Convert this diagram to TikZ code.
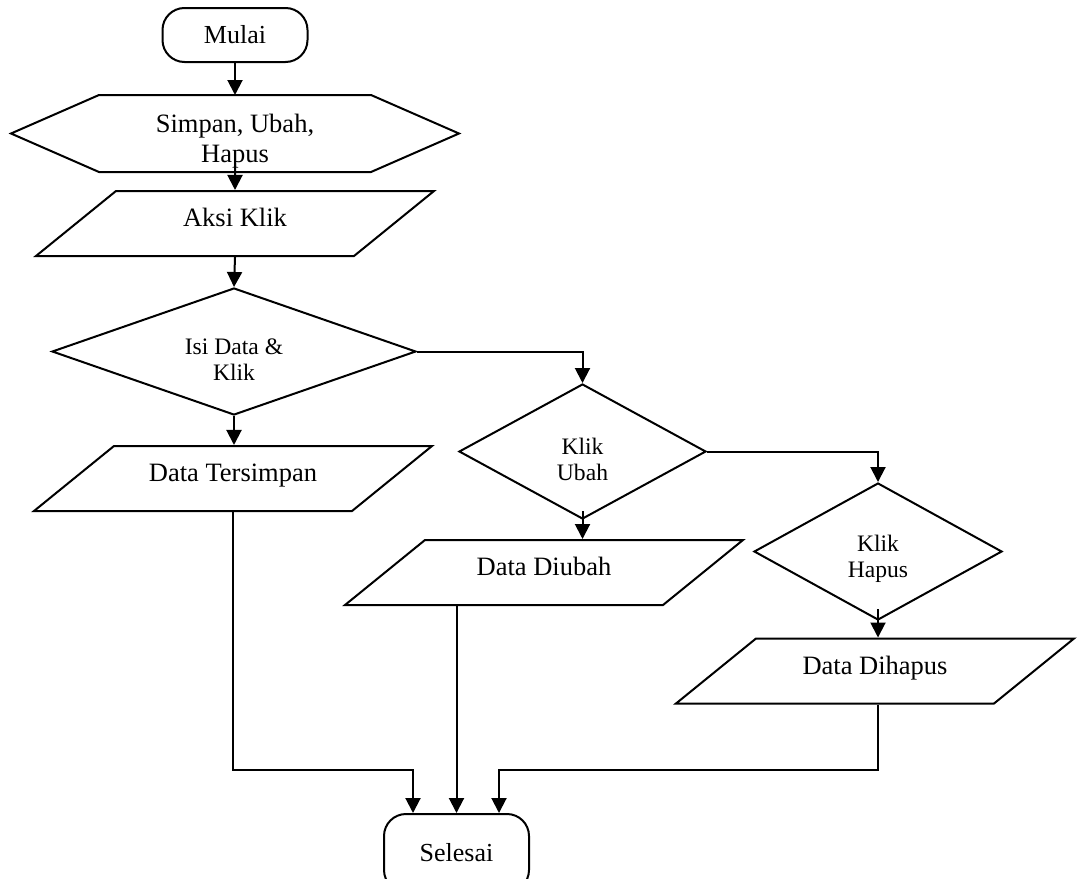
\documentclass[tikz,border=0pt]{standalone}
\usepackage{fontspec}
\setmainfont{Liberation Serif}
\usetikzlibrary{shapes.geometric,arrows.meta,calc}

\newcommand{\atas}{\rule{0pt}{16pt}}

\begin{document}
\begin{tikzpicture}[x=0.5pt, y=-0.5pt, line width=1pt,
    terminal/.style={draw, rectangle, rounded corners=11pt, minimum width=72.5pt,
      font=\fontsize{13}{15}\selectfont},
    data/.style={draw, trapezium, trapezium left angle=39.1, trapezium right angle=140.9,
      trapezium stretches body, text height=14.75pt, text depth=11.75pt, inner ysep=3pt,
      minimum width=199pt, minimum height=32.5pt, font=\fontsize{13.25}{16}\selectfont},
    keputusan/.style={draw, diamond, inner sep=0pt, align=center,
      font=\fontsize{11.8}{13}\selectfont},
    panah/.style={-{Triangle[width=7.5pt,length=7.5pt]}}]
      \useasboundingbox (0,0) rectangle (1080,878);
      \clip (0,0) rectangle (1080,878);

      % kolom kiri
      \node[terminal, minimum height=27pt] (mulai) at (235,35) {Mulai};
      \node[minimum width=135pt, minimum height=37.5pt, inner ysep=0pt, align=center,
        font=\fontsize{13.25}{15}\selectfont] (pilih) at (235,133.5) {\rule{0pt}{17pt}Simpan, Ubah,\\Hapus};
      \draw (pilih.north west) -- (pilih.north east) -- ($(pilih.east)+(88,0)$)
        -- (pilih.south east) -- (pilih.south west) -- ($(pilih.west)+(-88,0)$) -- cycle;
      \node[data] (aksi) at (235,223.5) {Aksi Klik};
      \node[keputusan, aspect=2.87, minimum width=182pt, minimum height=63.5pt] (isi) at (234,351.5) {\atas Isi Data \&\\Klik};
      \node[data] (tersimpan) at (233,478.5) {Data Tersimpan};

      % cabang ubah dan hapus
      \node[keputusan, aspect=1.83, minimum width=123.5pt, minimum height=67.5pt] (ubah) at (582.5,451.5) {\atas Klik\\Ubah};
      \node[data] (diubah) at (544,572.5) {Data Diubah};
      \node[keputusan, aspect=1.81, minimum width=124pt, minimum height=68.5pt] (hapus) at (878,551.5) {\atas Klik\\Hapus};
      \node[data] (dihapus) at (875,671) {Data Dihapus};

      \node[terminal, minimum height=39pt] (selesai) at (456.5,853) {Selesai};

      \coordinate (k1) at (413,770);
      \coordinate (k2) at (499,770);

      \draw[panah] (mulai.south) -- (pilih.north);
      \draw[panah] ($(pilih.south)+(0,-20)$) -- (aksi.north);
      \draw[panah] (aksi.south) -- (isi.north);
      \draw[panah] (isi.south) -- (isi.south |- tersimpan.north);
      \draw[panah] (isi.east) -| (ubah.north);
      \draw[panah] ($(ubah.south)+(0,-9)$) -- (ubah.south |- diubah.north);
      \draw[panah] (ubah.east) -| (hapus.north);
      \draw[panah] ($(hapus.south)+(0,-12)$) -- (hapus.south |- dihapus.north);

      % ke selesai
      \draw[panah] (tersimpan.south) |- (k1) -- (k1 |- selesai.north);
      \draw[panah] (selesai.north |- diubah.south) -- (selesai.north);
      \draw[panah] (hapus.south |- dihapus.south) |- (k2) -- (k2 |- selesai.north);
\end{tikzpicture}
\end{document}
